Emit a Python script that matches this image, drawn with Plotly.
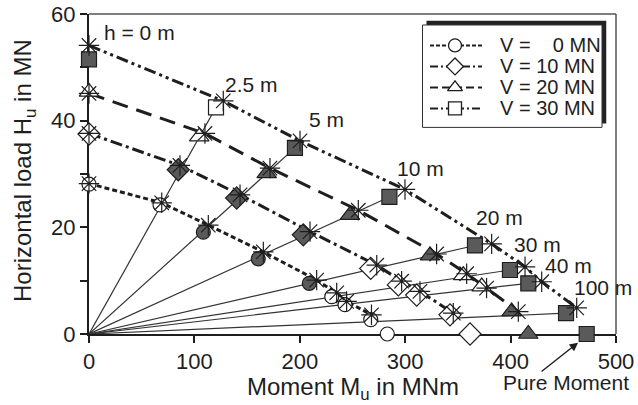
import plotly.graph_objects as go

# lever-arm heights h (rays)
h_labels = ["h = 0 m", "2.5 m", "5 m", "10 m", "20 m", "30 m", "40 m", "100 m"]

# numerical results (markers) for each vertical load V, h = 0,2.5,5,10,20,30,40,100, pure moment
M_v0 = [0, 67.4, 108.5, 160.6, 209.0, 230.3, 242.9, 267.3, 283.0]
H_v0 = [28.1, 24.2, 19.1, 14.1, 9.5, 7.0, 5.5, 2.7, 0]
fill_v0 = [0, 0, 1, 1, 1, 0, 0, 0, 0]
M_v10 = [0, 84.7, 140.1, 203.3, 267.3, 293.5, 310.9, 342.5, 361.5]
H_v10 = [37.5, 30.8, 25.5, 18.6, 12.3, 9.2, 7.3, 3.6, 0]
fill_v10 = [0, 1, 1, 1, 0, 0, 0, 0, 0]
M_v20 = [0, 104.6, 168.6, 247.6, 323.5, 355.1, 372.6, 401.0, 416.8]
H_v20 = [45.4, 37.0, 30.1, 22.3, 14.7, 11.0, 8.9, 4.2, 0]
fill_v20 = [0, 0, 1, 1, 1, 0, 0, 1, 1]
M_v30 = [0, 120.5, 195.4, 285.0, 366.2, 399.4, 416.8, 452.6, 472.2]
H_v30 = [51.5, 42.5, 34.9, 25.7, 16.6, 12.0, 9.5, 3.9, 0]
fill_v30 = [1, 0, 1, 1, 1, 1, 1, 1, 1]

# analytical interaction curves (star points), h = 0 ... 100 m
Ms_v0 = [0, 69.0, 113.2, 165.4, 216.0, 235.0, 244.4, 268.0]
Hs_v0 = [28.2, 24.6, 20.4, 15.4, 10.1, 7.7, 6.1, 3.6]
Ms_v10 = [0, 86.3, 143.3, 209.7, 273.0, 296.6, 314.0, 345.6]
Hs_v10 = [37.6, 31.6, 26.1, 19.2, 12.9, 9.9, 8.0, 3.9]
Ms_v20 = [0, 110.0, 171.7, 255.5, 329.8, 358.3, 377.2, 407.3]
Hs_v20 = [45.1, 37.6, 31.1, 23.2, 15.0, 11.3, 8.6, 4.2]
Ms_v30 = [0, 127.4, 200.2, 299.8, 382.0, 413.7, 429.5, 462.7]
Hs_v30 = [54.1, 43.7, 36.2, 27.1, 16.9, 12.6, 9.8, 4.9]

legend_names = ["V = \u00a0\u00a0 0 MN", "V = 10 MN", "V = 20 MN", "V = 30 MN"]

series = [
    (M_v0, H_v0, fill_v0, Ms_v0, Hs_v0, "circle", "5px,3px", 14),
    (M_v10, H_v10, fill_v10, Ms_v10, Hs_v10, "diamond", "12px,4px,3px,4px", 17),
    (M_v20, H_v20, fill_v20, Ms_v20, Hs_v20, "triangle-up", "16px,9px", 17),
    (M_v30, H_v30, fill_v30, Ms_v30, Hs_v30, "square", "12px,4px,3px,4px,3px,4px", 15),
]
legend_dash = ["4px,2px", "8px,3px,2px,3px", "8px,4px", "8px,3px,2px,3px,2px,3px"]

INK = "#1e1e1e"
GREY = "#5a5a5a"
FONT = "Liberation Sans, Arial, sans-serif"

fig = go.Figure()

# rays from origin through the V = 30 MN points (h = 2.5 ... 100 m)
for i in range(1, 8):
    fig.add_trace(go.Scatter(x=[0, M_v30[i]], y=[0, H_v30[i]], mode="lines",
                             line=dict(color="#333333", width=1.2),
                             showlegend=False, hoverinfo="skip", cliponaxis=False))

# interaction curves
for (M, H, F, Ms, Hs, sym, dash, sz) in series:
    fig.add_trace(go.Scatter(x=Ms, y=Hs, mode="lines",
                             line=dict(color=INK, width=3, dash=dash),
                             showlegend=False, hoverinfo="skip", cliponaxis=False))

# numerical markers
for (M, H, F, Ms, Hs, sym, dash, sz) in series:
    fig.add_trace(go.Scatter(x=M, y=H, mode="markers",
                             marker=dict(symbol=sym, size=sz,
                                         color=[GREY if f else "white" for f in F],
                                         line=dict(color=INK, width=1.2)),
                             showlegend=False, cliponaxis=False))

# analytical star markers
for (M, H, F, Ms, Hs, sym, dash, sz) in series:
    fig.add_trace(go.Scatter(x=Ms, y=Hs, mode="markers",
                             marker=dict(symbol="asterisk-open", size=17, color=INK,
                                         line=dict(color=INK, width=1.2)),
                             showlegend=False, cliponaxis=False))

# ---- hand-built legend on an overlay axis (units = pixels inside the box) ----
BOX_W, BOX_H, SH = 180, 103, 4.5
row_y = [25, 46, 67, 88]
fig.add_shape(type="rect", xref="x2", yref="y2", x0=SH, x1=BOX_W + SH, y0=0, y1=BOX_H,
              line=dict(width=0), fillcolor="#222222", layer="below")
fig.add_shape(type="rect", xref="x2", yref="y2", x0=0.5, x1=BOX_W, y0=SH, y1=BOX_H + SH - 0.5,
              line=dict(width=1, color="#333333"), fillcolor="white", layer="below")
for name, ry, ld, (M, H, F, Ms, Hs, sym, dash, sz) in zip(legend_names, row_y, legend_dash, series):
    fig.add_trace(go.Scatter(x=[8, 60], y=[ry, ry], mode="lines", xaxis="x2", yaxis="y2",
                             line=dict(color=INK, width=2, dash=ld),
                             showlegend=False, hoverinfo="skip"))
    fig.add_trace(go.Scatter(x=[33], y=[ry], mode="markers", xaxis="x2", yaxis="y2",
                             marker=dict(symbol=sym, size=13, color="white",
                                         line=dict(color=INK, width=1.3)),
                             showlegend=False, hoverinfo="skip"))
    fig.add_annotation(xref="x2", yref="y2", x=76, y=ry, text=name, showarrow=False,
                       xanchor="left", yanchor="middle",
                       font=dict(size=20, color=INK, family=FONT))

# height labels
lab_x = [12, 127, 207, 290, 365, 401, 431, 458]
lab_y = [56.5, 46.8, 40.3, 31.1, 21.9, 16.7, 12.9, 8.8]
for t, x, y in zip(h_labels, lab_x, lab_y):
    fig.add_annotation(x=x, y=y, text=t, showarrow=False, xanchor="left", yanchor="middle",
                       font=dict(size=21, color=INK, family=FONT))

fig.add_annotation(xref="paper", yref="paper", x=0.905, y=-0.153, text="Pure Moment",
                   showarrow=False, xanchor="center", yanchor="middle",
                   font=dict(size=21, color=INK, family=FONT))
fig.add_annotation(xref="paper", yref="paper", x=0.928, y=-0.027, ax=-38, ay=30, text="",
                   showarrow=True, arrowhead=2, arrowsize=1.2, arrowwidth=1.4, arrowcolor=INK)

# axis titles
fig.add_annotation(xref="paper", yref="paper", x=0.5, y=-0.17, text="Moment M<sub>u</sub> in MNm",
                   showarrow=False, xanchor="center", yanchor="middle",
                   font=dict(size=24, color=INK, family=FONT))
fig.add_annotation(xref="paper", yref="paper", x=-0.121, y=0.51, text="Horizontal load H<sub>u</sub> in MN",
                   showarrow=False, xanchor="center", yanchor="middle", textangle=-90,
                   font=dict(size=24, color=INK, family=FONT))

# frame (top/right)
fig.add_shape(type="line", xref="paper", yref="paper", x0=0, x1=1, y0=1, y1=1,
              line=dict(color="#555555", width=1.5))
fig.add_shape(type="line", xref="paper", yref="paper", x0=1, x1=1, y0=0, y1=1,
              line=dict(color="#555555", width=1.5))

fig.update_layout(
    template="none",
    width=638, height=405,
    margin=dict(l=89, r=22, t=14, b=71, autoexpand=False),
    paper_bgcolor="white", plot_bgcolor="white",
    font=dict(family=FONT, color=INK, size=21),
    showlegend=False,
    xaxis=dict(range=[0, 500], tickvals=[0, 100, 200, 300, 400, 500], automargin=False,
               showline=True, linecolor=INK, linewidth=2, ticks="outside", ticklen=7,
               tickwidth=1.5, tickcolor=INK, showgrid=False, zeroline=False,
               tickfont=dict(size=22, color=INK, family=FONT), layer="below traces"),
    yaxis=dict(range=[0, 60], tickvals=[0, 20, 40, 60], automargin=False,
               showline=True, linecolor=INK, linewidth=2, ticks="outside", ticklen=7,
               tickwidth=1.5, tickcolor=INK, showgrid=False, zeroline=False,
               minor=dict(tickvals=[10, 30, 50], ticks="outside", ticklen=7, tickcolor=INK, tickwidth=1.5),
               tickfont=dict(size=22, color=INK, family=FONT), layer="below traces"),
    xaxis2=dict(domain=[(422 - 89) / 527, (422 + BOX_W + SH - 89) / 527], range=[0, BOX_W + SH],
                anchor="y2", visible=False, fixedrange=True),
    yaxis2=dict(domain=[(334.3 - 128) / 320.3, (334.3 - 128 + BOX_H + SH) / 320.3],
                range=[BOX_H + SH, 0], anchor="x2", visible=False, fixedrange=True),
)

fig.write_html("out.html")
